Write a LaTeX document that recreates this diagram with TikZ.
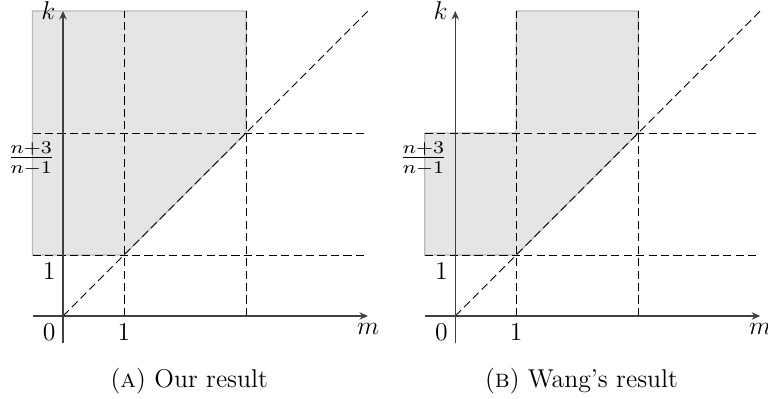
\documentclass[tikz,border=0pt]{standalone}
\usetikzlibrary{arrows.meta}
\begin{document}
\begin{tikzpicture}[x=1cm,y=1cm,
  region/.style={fill=gray!20, draw=gray!55, line width=0.6pt},
  dsh/.style={black, line width=0.4pt, dash pattern=on 3.8pt off 2pt},
  axisline/.style={black!75, line width=0.6pt},
  axisarrow/.style={axisline, -{Stealth[length=4pt,width=3.5pt]}},
  lab/.style={font=\large},
  captext/.style={font=\large}
]
\useasboundingbox (-1.033,-1.361) rectangle (11.557,5.180);

% ---------- panel (a) ----------
\begin{scope}
  \coordinate (aO) at (0,0);
  \fill[region] (-0.5,5) -- (3,5) -- (3,3) -- (1,1) -- (-0.5,1) -- cycle;
  \coordinate (aL1) at (-0.5,1); \coordinate (aR1) at (5,1);
  \coordinate (aL3) at (-0.5,3); \coordinate (aR3) at (5,3);
  \coordinate (aB1) at (1,0);    \coordinate (aT1) at (1,5);
  \coordinate (aB3) at (3,0);    \coordinate (aT3) at (3,5);
  \coordinate (aD) at (5,5);
  \draw[dsh] (aL1) -- (aR1);
  \draw[dsh] (aL3) -- (aR3);
  \draw[dsh] (aB1) -- (aT1);
  \draw[dsh] (aB3) -- (aT3);
  \draw[dsh] (aO) -- (aD);
  \coordinate (aXs) at (-0.5,0); \coordinate (aXe) at (5,0);
  \coordinate (aYs) at (0,-0.45); \coordinate (aYe) at (0,5);
  \draw[axisarrow] (aXs) -- (aXe);
  \draw[axisarrow] (aYs) -- (aYe);
  \node[lab,left] (ak) at (aYe) {$k$};
  \node[lab,below] (am) at (aXe) {$m$};
  \node[lab,below left] (a0) at (aO) {0};
  \node[lab,below] (ax1) at (aB1) {1};
  \node[lab,below left] (ay1) at (0,1) {1};
  \node[lab,inner sep=0pt] (ayf) at (-0.52,2.58) {\scalebox{1.2}[1.05]{$\frac{n+3}{n-1}$}};
  \node[captext] (acap) at (2.07,-1.07) {(\textsc{a}) Our result};
\end{scope}

% ---------- panel (b) ----------
\begin{scope}[shift={(6.43,0)}]
  \coordinate (bO) at (0,0);
  \fill[region] (-0.5,1) -- (-0.5,3) -- (1,3) -- (1,5) -- (3,5) -- (3,3) -- (1,1) -- cycle;
  \coordinate (bL1) at (-0.5,1); \coordinate (bR1) at (5,1);
  \coordinate (bL3) at (-0.5,3); \coordinate (bR3) at (5,3);
  \coordinate (bB1) at (1,0);    \coordinate (bT1) at (1,5);
  \coordinate (bB3) at (3,0);    \coordinate (bT3) at (3,5);
  \coordinate (bD) at (5,5);
  \draw[dsh] (bL1) -- (bR1);
  \draw[dsh] (bL3) -- (bR3);
  \draw[dsh] (bB1) -- (bT1);
  \draw[dsh] (bB3) -- (bT3);
  \draw[dsh] (bO) -- (bD);
  \coordinate (bXs) at (-0.5,0); \coordinate (bXe) at (5,0);
  \coordinate (bYs) at (0,-0.45); \coordinate (bYe) at (0,5);
  \draw[axisarrow] (bXs) -- (bXe);
  \draw[axisarrow] (bYs) -- (bYe);
  \node[lab,left] (bk) at (bYe) {$k$};
  \node[lab,below] (bm) at (bXe) {$m$};
  \node[lab,below left] (b0) at (bO) {0};
  \node[lab,below] (bx1) at (bB1) {1};
  \node[lab,below left] (by1) at (0,1) {1};
  \node[lab,inner sep=0pt] (byf) at (-0.52,2.58) {\scalebox{1.2}[1.05]{$\frac{n+3}{n-1}$}};
  \node[captext] (bcap) at (2.07,-1.07) {(\textsc{b}) Wang's result};
\end{scope}
\end{tikzpicture}
\end{document}
